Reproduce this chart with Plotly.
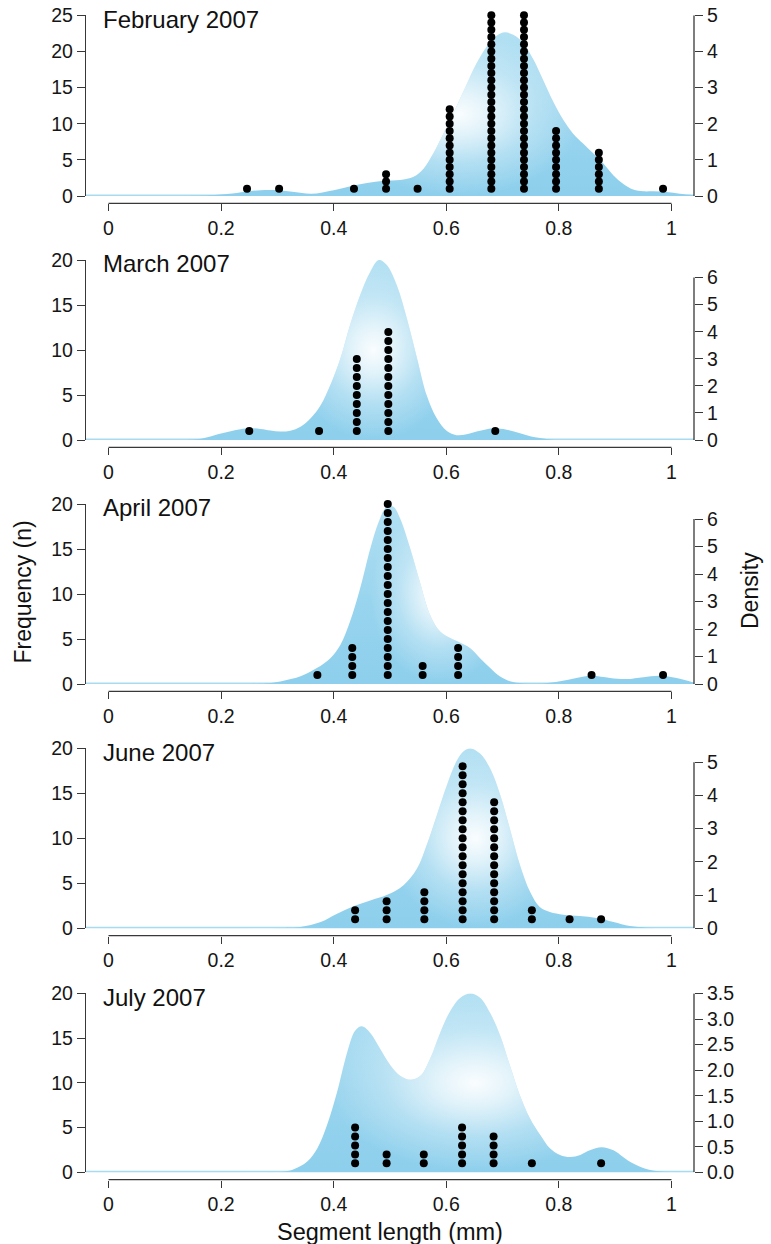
import plotly.graph_objects as go

# ---------------- data ----------------
months = ["February 2007", "March 2007", "April 2007", "June 2007", "July 2007"]

# density curves (right axis)
feb_cx = [-0.04, 0.10, 0.16, 0.18, 0.22, 0.25, 0.27, 0.30, 0.33, 0.36, 0.400, 0.430, 0.459, 0.489, 0.518,
          0.542, 0.560, 0.577, 0.595, 0.618, 0.637, 0.654, 0.672, 0.690, 0.704, 0.719, 0.737, 0.755,
          0.772, 0.790, 0.808, 0.825, 0.843, 0.861, 0.879, 0.897, 0.914, 0.932, 0.950, 0.968, 0.991,
          1.015, 1.04]
feb_cd = [0, 0, 0.01, 0.02, 0.07, 0.13, 0.16, 0.16, 0.11, 0.06, 0.16, 0.27, 0.36, 0.42, 0.44,
          0.53, 0.76, 1.18, 1.73, 2.47, 3.12, 3.68, 4.14, 4.44, 4.53, 4.46, 4.23, 3.77,
          3.21, 2.61, 2.10, 1.73, 1.45, 1.18, 0.90, 0.57, 0.34, 0.18, 0.13, 0.13, 0.11,
          0.06, 0.02]

mar_cx = [-0.04, 0.128, 0.164, 0.187, 0.217, 0.246, 0.270, 0.288, 0.305, 0.323, 0.341, 0.359, 0.377,
          0.394, 0.412, 0.429, 0.447, 0.465, 0.480, 0.494, 0.512, 0.530, 0.548, 0.565, 0.583, 0.601,
          0.618, 0.636, 0.660, 0.684, 0.707, 0.731, 0.755, 0.778, 0.796, 1.04]
mar_cd = [0, 0, 0.05, 0.17, 0.32, 0.43, 0.41, 0.35, 0.31, 0.34, 0.49, 0.80, 1.29,
          2.03, 3.02, 4.25, 5.36, 6.22, 6.65, 6.47, 5.73, 4.49, 3.02, 1.66, 0.80, 0.33,
          0.18, 0.21, 0.34, 0.43, 0.38, 0.25, 0.11, 0.04, 0, 0]

apr_cx = [-0.04, 0.252, 0.288, 0.311, 0.341, 0.370, 0.394, 0.412, 0.429, 0.447, 0.465, 0.480, 0.494,
          0.506, 0.518, 0.536, 0.553, 0.571, 0.589, 0.607, 0.624, 0.642, 0.660, 0.678, 0.695, 0.713,
          0.737, 0.772, 0.802, 0.831, 0.858, 0.891, 0.920, 0.950, 0.979, 1.009, 1.04]
apr_cd = [0, 0, 0.04, 0.12, 0.28, 0.58, 0.94, 1.43, 2.27, 3.48, 4.93, 5.90, 6.45,
          6.45, 6.02, 4.93, 3.72, 2.52, 1.91, 1.67, 1.51, 1.31, 0.94, 0.58, 0.28, 0.10,
          0.02, 0.02, 0.10, 0.22, 0.30, 0.22, 0.18, 0.25, 0.30, 0.22, 0.05]

jun_cx = [-0.04, 0.3055, 0.341, 0.377, 0.406, 0.436, 0.465, 0.495, 0.524, 0.548, 0.565, 0.583, 0.601,
          0.619, 0.633, 0.645, 0.660, 0.678, 0.696, 0.713, 0.731, 0.749, 0.766, 0.784, 0.808, 0.837,
          0.867, 0.897, 0.926, 0.956, 0.99, 1.04]
jun_cd = [0, 0.01, 0.04, 0.19, 0.44, 0.67, 0.84, 1.01, 1.30, 1.80, 2.50, 3.40, 4.31,
          5.06, 5.36, 5.41, 5.26, 4.81, 4.01, 3.00, 1.90, 1.09, 0.64, 0.49, 0.41, 0.37,
          0.31, 0.19, 0.07, 0.02, 0, 0]

jul_cx = [-0.04, 0.252, 0.311, 0.329, 0.353, 0.371, 0.388, 0.406, 0.424, 0.438, 0.450, 0.465, 0.483,
          0.501, 0.518, 0.536, 0.554, 0.571, 0.589, 0.607, 0.625, 0.643, 0.660, 0.678, 0.696, 0.713,
          0.731, 0.749, 0.767, 0.784, 0.802, 0.820, 0.838, 0.855, 0.876, 0.897, 0.914, 0.932, 0.96,
          1.0, 1.04]
jul_cd = [0, 0, 0.01, 0.06, 0.21, 0.47, 0.92, 1.57, 2.35, 2.77, 2.86, 2.73, 2.41,
          2.09, 1.89, 1.81, 1.89, 2.22, 2.73, 3.16, 3.42, 3.50, 3.42, 3.12, 2.67, 2.09,
          1.50, 1.05, 0.73, 0.47, 0.34, 0.30, 0.34, 0.43, 0.49, 0.43, 0.30, 0.17, 0.05,
          0, 0]

# dot columns (left axis): segment length and number of stacked dots
feb_dx = [0.246, 0.303, 0.436, 0.493, 0.549, 0.606, 0.680, 0.738, 0.795, 0.871, 0.985]
feb_dn = [1, 1, 1, 3, 1, 12, 25, 25, 9, 6, 1]
mar_dx = [0.250, 0.374, 0.441, 0.497, 0.687]
mar_dn = [1, 1, 9, 12, 1]
apr_dx = [0.371, 0.433, 0.496, 0.558, 0.621, 0.858, 0.985]
apr_dn = [1, 4, 20, 2, 4, 1, 1]
jun_dx = [0.438, 0.494, 0.561, 0.629, 0.685, 0.752, 0.819, 0.875]
jun_dn = [2, 3, 4, 18, 14, 2, 1, 1]
jul_dx = [0.438, 0.494, 0.560, 0.628, 0.684, 0.752, 0.875]
jul_dn = [5, 2, 2, 5, 4, 1, 1]

freq_max = [25, 20, 20, 20, 20]
dens_max = [5, 6.65, 6.55, 5.42, 3.505]
dens_ticks = [[0, 1, 2, 3, 4, 5], [0, 1, 2, 3, 4, 5, 6], [0, 1, 2, 3, 4, 5, 6],
              [0, 1, 2, 3, 4, 5], [0, 0.5, 1.0, 1.5, 2.0, 2.5, 3.0, 3.5]]
dens_ticktext = [["0", "1", "2", "3", "4", "5"], ["0", "1", "2", "3", "4", "5", "6"],
                 ["0", "1", "2", "3", "4", "5", "6"], ["0", "1", "2", "3", "4", "5"],
                 ["0.0", "0.5", "1.0", "1.5", "2.0", "2.5", "3.0", "3.5"]]
x_ticks = [0, 0.2, 0.4, 0.6, 0.8, 1]
x_ticktext = ["0", "0.2", "0.4", "0.6", "0.8", "1"]

curves_x = [feb_cx, mar_cx, apr_cx, jun_cx, jul_cx]
curves_d = [feb_cd, mar_cd, apr_cd, jun_cd, jul_cd]
dots_x = [feb_dx, mar_dx, apr_dx, jun_dx, jul_dx]
dots_n = [feb_dn, mar_dn, apr_dn, jun_dn, jul_dn]

# ---------------- style / layout ----------------
W, H = 771, 1244
base_px = [196.0, 440.0, 684.0, 928.3, 1172.3]
top_px = [15.3, 260.0, 504.0, 748.3, 993.3]
X_LEFT, X_RIGHT = 86, 694
glow_span = [(0.38, 0.86), (0.31, 0.62), (0.45, 0.73), (0.48, 0.83), (0.38, 0.92)]

FONT = "Liberation Sans, Arial, Helvetica, sans-serif"
AX = "#383838"
EDGE = "#8dcfec"
TOPC = "#b2e0f3"
BAND = "#a9dbf0"
BASE_GRAD = [[0.0, EDGE], [0.45, "#98d4ee"], [1.0, TOPC]]
GLOW = [[0.0, "rgba(255,255,255,0.95)"], [0.25, "rgba(255,255,255,0.72)"],
        [0.6, "rgba(255,255,255,0.3)"], [1.0, "rgba(255,255,255,0)"]]
TF = dict(family=FONT, size=19.5, color="#161616")


def py(p):
    return 1 - p / H


fig = go.Figure()
layout = dict(template="none", width=W, height=H,
              margin=dict(l=0, r=0, t=0, b=0, pad=0, autoexpand=False), autosize=False,
              paper_bgcolor="white", plot_bgcolor="white", showlegend=False,
              font=dict(family=FONT, color="#161616"))
shapes, annotations = [], []

for i in range(5):
    n = i + 1
    xa = "x" if n == 1 else f"x{n}"
    yd = "y" if n == 1 else f"y{n}"
    yf = f"y{n + 5}"
    cx, cd = curves_x[i], curves_d[i]

    fig.add_trace(go.Scatter(x=cx, y=cd, xaxis=xa, yaxis=yd, mode="lines",
                             line=dict(width=0, shape="spline", color="rgba(0,0,0,0)"),
                             fill="tozeroy",
                             fillgradient=dict(type="vertical", colorscale=BASE_GRAD),
                             hoverinfo="skip"))
    a, b = glow_span[i]
    gx = [x for x in cx if a <= x <= b]
    gy = [d for x, d in zip(cx, cd) if a <= x <= b]
    fig.add_trace(go.Scatter(x=gx, y=gy, xaxis=xa, yaxis=yd, mode="lines",
                             line=dict(width=0, shape="spline", color="rgba(0,0,0,0)"),
                             fill="tozeroy",
                             fillgradient=dict(type="radial", colorscale=GLOW),
                             hoverinfo="skip"))
    xs, ys = [], []
    for x, c in zip(dots_x[i], dots_n[i]):
        for k in range(1, c + 1):
            xs.append(x)
            ys.append(k)
    fig.add_trace(go.Scatter(x=xs, y=ys, xaxis=xa, yaxis=yf, mode="markers",
                             marker=dict(size=8, color="black", line=dict(width=0)),
                             cliponaxis=False, hoverinfo="skip"))

    xpos = py(base_px[i] + 7.3)
    layout["xaxis" if n == 1 else f"xaxis{n}"] = dict(
        domain=[X_LEFT / W, X_RIGHT / W], range=[-0.04, 1.04], anchor="free", position=xpos,
        tickvals=x_ticks, ticktext=x_ticktext, ticks="outside", ticklen=7, tickwidth=1.3,
        tickcolor=AX, showline=False, showgrid=False, zeroline=False, tickfont=TF,
        automargin=False, fixedrange=True)
    layout["yaxis" if n == 1 else f"yaxis{n}"] = dict(
        domain=[py(base_px[i]), py(top_px[i])], range=[0, dens_max[i]], side="right",
        anchor=xa, tickvals=dens_ticks[i], ticktext=dens_ticktext[i], ticks="outside",
        ticklen=8, tickwidth=1.3, tickcolor=AX, showline=False, showgrid=False,
        zeroline=False, tickfont=TF, automargin=False, fixedrange=True)
    layout[f"yaxis{n + 5}"] = dict(
        overlaying=yd, side="left", anchor=xa, range=[0, freq_max[i]],
        tickvals=list(range(0, freq_max[i] + 1, 5)), ticks="outside", ticklen=8,
        tickwidth=1.3, tickcolor=AX, showline=True, linecolor=AX, linewidth=1.3,
        showgrid=False, zeroline=False, tickfont=TF, automargin=False, fixedrange=True)

    shapes.append(dict(type="line", xref=f"{xa} domain", x0=0, x1=1, yref=yd, y0=0, y1=0,
                       line=dict(color=BAND, width=3), layer="below"))
    shapes.append(dict(type="line", xref=f"{xa} domain", x0=1, x1=1, yref=yd, y0=0,
                       y1=dens_ticks[i][-1], line=dict(color=AX, width=1.3), layer="above"))
    shapes.append(dict(type="line", xref=xa, x0=0, x1=1, yref="paper", y0=xpos, y1=xpos,
                       line=dict(color=AX, width=1.3), layer="above"))

    annotations.append(dict(text=months[i], xref="paper", yref="paper", x=101 / W,
                            y=py(top_px[i] + 3.8), xanchor="left", yanchor="middle",
                            showarrow=False, font=dict(family=FONT, size=24, color="#111111")))

annotations.append(dict(text="Frequency (n)", xref="paper", yref="paper", x=22.5 / W, y=py(592),
                        xanchor="center", yanchor="middle", textangle=-90, showarrow=False,
                        font=dict(family=FONT, size=23, color="#111111")))
annotations.append(dict(text="Density", xref="paper", yref="paper", x=750 / W, y=py(591),
                        xanchor="center", yanchor="middle", textangle=-90, showarrow=False,
                        font=dict(family=FONT, size=23, color="#111111")))
annotations.append(dict(text="Segment length (mm)", xref="paper", yref="paper", x=390 / W,
                        y=py(1231.5), xanchor="center", yanchor="middle", showarrow=False,
                        font=dict(family=FONT, size=23.5, color="#111111")))

layout["shapes"] = shapes
layout["annotations"] = annotations
fig.update_layout(**layout)
fig.write_html("out.html", config=dict(displayModeBar=False))
